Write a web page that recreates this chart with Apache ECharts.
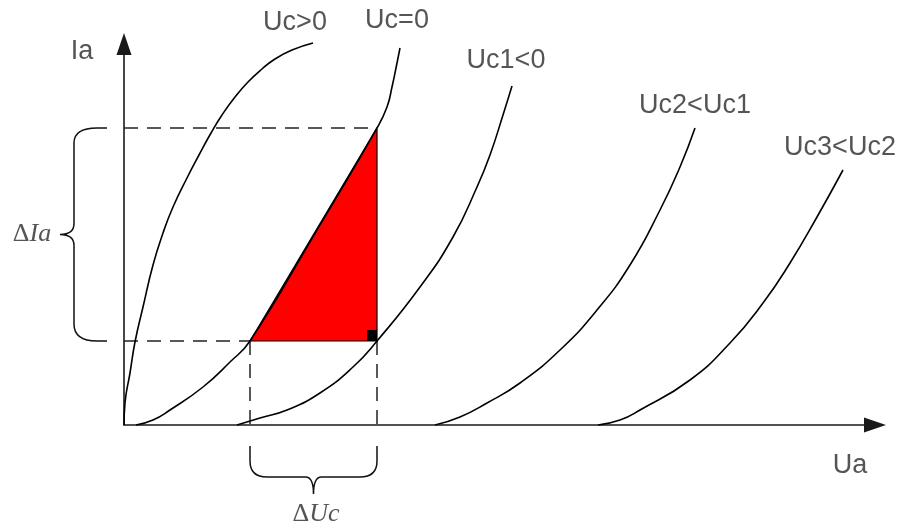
<!DOCTYPE html>
<html><head><meta charset="utf-8">
<script src="https://cdn.jsdelivr.net/npm/echarts@6/dist/echarts.min.js"></script>
<style>html,body{margin:0;padding:0;background:#fff}#c{width:903px;height:528px}</style>
</head><body><div id="c"></div><script>
// Curve names (grid voltage)
const curveNames = ['Uc>0', 'Uc=0', 'Uc1<0', 'Uc2<Uc1', 'Uc3<Uc2'];
// Ia vs Ua characteristic curves (arbitrary units)
const curveUcPos = [[0,0],[1,22],[6,52],[11,83],[19,118],[29,160],[39,192],[49,218],[63,247],[75,270],[87,292],[98,310],[111,328],[124,343],[138,356],[151,366],[168,375],[189,382]];
const curveUc0   = [[12,0],[29,5],[46,15],[79,38],[106,63],[126,84],[190,190],[253,297],[263,318],[268,338],[273,362],[276,377]];
const curveUc1   = [[113,0],[136,7],[163,15],[196,32],[229,58],[253,84],[296,138],[329,188],[353,238],[366,270],[379,310],[388,339]];
const curveUc2   = [[311,0],[336,8],[363,22],[396,42],[436,75],[473,115],[506,160],[536,215],[556,258],[571,297]];
const curveUc3   = [[474,0],[496,5],[516,15],[566,45],[606,82],[639,122],[666,162],[693,208],[719,255]];
// Operating points: Ua1, Ua2 and Ia1, Ia2
const uaLevels = [126, 253];
const iaLevels = [84, 297];
// Axis ranges
const uaRange = [0, 751];
const iaRange = [0, 381];
// Text annotations
const labelTexts = ['Uc>0', 'Uc=0', 'Uc1<0', 'Uc2<Uc1', 'Uc3<Uc2', 'Ia', 'Ua'];
const labelAt = [[171,402],[273,404],[382,364],[571,319],[716,277],[-42,373],[726,-41]];

const curves = [curveUcPos, curveUc0, curveUc1, curveUc2, curveUc3];
const chart = echarts.init(document.getElementById('c'));
const series = [];
curves.forEach((d, i) => series.push({
  type: 'line', name: curveNames[i], data: d, smooth: 0.5, symbol: 'none', showSymbol: false,
  clip: false, silent: true, z: 4, lineStyle: { color: '#000', width: 1.6 }
}));

const dashed = [
  [[0, iaLevels[1]], [uaLevels[1], iaLevels[1]]],
  [[0, iaLevels[0]], [uaLevels[0], iaLevels[0]]],
  [[uaLevels[0], iaLevels[0]], [uaLevels[0], 0]],
  [[uaLevels[1], iaLevels[0]], [uaLevels[1], 0]]
];
dashed.forEach(seg => series.push({
  type: 'line', data: seg, symbol: 'none', showSymbol: false, clip: false, silent: true, z: 2,
  lineStyle: { color: '#222', width: 1.5, type: [14, 9] }
}));

// red triangle + right-angle marker
series.push({
  type: 'custom', coordinateSystem: 'cartesian2d', data: [[0, 0]], clip: false, silent: true, z: 3,
  renderItem: (params, api) => {
    const a = api.coord([uaLevels[0], iaLevels[0]]);
    const b = api.coord([uaLevels[1], iaLevels[1]]);
    const c = api.coord([uaLevels[1], iaLevels[0]]);
    return {
      type: 'group', children: [
        { type: 'polygon', shape: { points: [a, b, c] }, style: { fill: '#ff0000', stroke: '#000', lineWidth: 1.2 } },
        { type: 'rect', shape: { x: c[0] - 10, y: c[1] - 11, width: 10, height: 11 }, style: { fill: '#000' } }
      ]
    };
  }
});

// braces
series.push({
  type: 'custom', coordinateSystem: 'cartesian2d', data: [[0, 0]], clip: false, silent: true, z: 3,
  renderItem: (params, api) => {
    const P = (x, y) => { const p = api.coord([x, y]); return p[0].toFixed(1) + ' ' + p[1].toFixed(1); };
    const t = iaLevels[1], bt = iaLevels[0], m = (t + bt) / 2;
    const left = 'M' + P(-17, t) + ' L' + P(-27, t) + ' Q' + P(-50, t) + ' ' + P(-50, t - 15) +
      ' L' + P(-50, m + 11) + ' Q' + P(-50, m) + ' ' + P(-64, m) + ' Q' + P(-50, m) + ' ' + P(-50, m - 11) +
      ' L' + P(-50, bt + 17) + ' Q' + P(-50, bt) + ' ' + P(-27, bt) + ' L' + P(-17, bt);
    const l = uaLevels[0], r = uaLevels[1], mx = (l + r) / 2;
    const bottom = 'M' + P(l, -21) + ' L' + P(l, -36) + ' Q' + P(l, -52) + ' ' + P(l + 17, -52) +
      ' L' + P(mx - 8, -52) + ' Q' + P(mx, -52) + ' ' + P(mx, -69) + ' Q' + P(mx, -52) + ' ' + P(mx + 8, -52) +
      ' L' + P(r - 17, -52) + ' Q' + P(r, -52) + ' ' + P(r, -36) + ' L' + P(r, -21);
    const st = { fill: null, stroke: '#111', lineWidth: 1.5 };
    return { type: 'group', children: [
      { type: 'path', shape: { pathData: left }, style: st },
      { type: 'path', shape: { pathData: bottom }, style: st }
    ] };
  }
});

// labels
const labelData = labelTexts.map((t, i) => ({ value: labelAt[i], name: t }));
labelData.push({ value: [-92, 191], name: 'dIa', label: { formatter: '{d|Δ}{i|Ia}' } });
labelData.push({ value: [192, -89], name: 'dUc', label: { formatter: '{d|Δ}{i|Uc}' } });
series.push({
  type: 'scatter', data: labelData, symbolSize: 0, clip: false, silent: true, z: 5,
  label: {
    show: true, position: 'inside', formatter: '{b}', color: '#2b2b2b',
    fontFamily: 'Liberation Sans, Arial, sans-serif', fontSize: 27,
    rich: {
      d: { fontFamily: 'Liberation Serif, Times New Roman, serif', fontSize: 26, color: '#2b2b2b' },
      i: { fontFamily: 'Liberation Serif, Times New Roman, serif', fontSize: 26, fontStyle: 'italic', color: '#2b2b2b' }
    }
  }
});

const axisCommon = {
  type: 'value', axisTick: { show: false }, axisLabel: { show: false }, splitLine: { show: false }
};
chart.setOption({
  animation: false,
  backgroundColor: '#fff',
  grid: { left: 124, top: 44, width: 751, height: 381, containLabel: false },
  xAxis: Object.assign({}, axisCommon, {
    min: uaRange[0], max: uaRange[1],
    axisLine: { show: true, onZero: false, symbol: ['none', 'triangle'], symbolSize: [15, 22], lineStyle: { color: '#1a1a1a', width: 1.6 } }
  }),
  yAxis: Object.assign({}, axisCommon, {
    min: iaRange[0], max: iaRange[1],
    axisLine: { show: true, onZero: false, symbol: ['none', 'triangle'], symbolSize: [15, 22], lineStyle: { color: '#1a1a1a', width: 1.6 } }
  }),
  series: series
});
</script></body></html>
